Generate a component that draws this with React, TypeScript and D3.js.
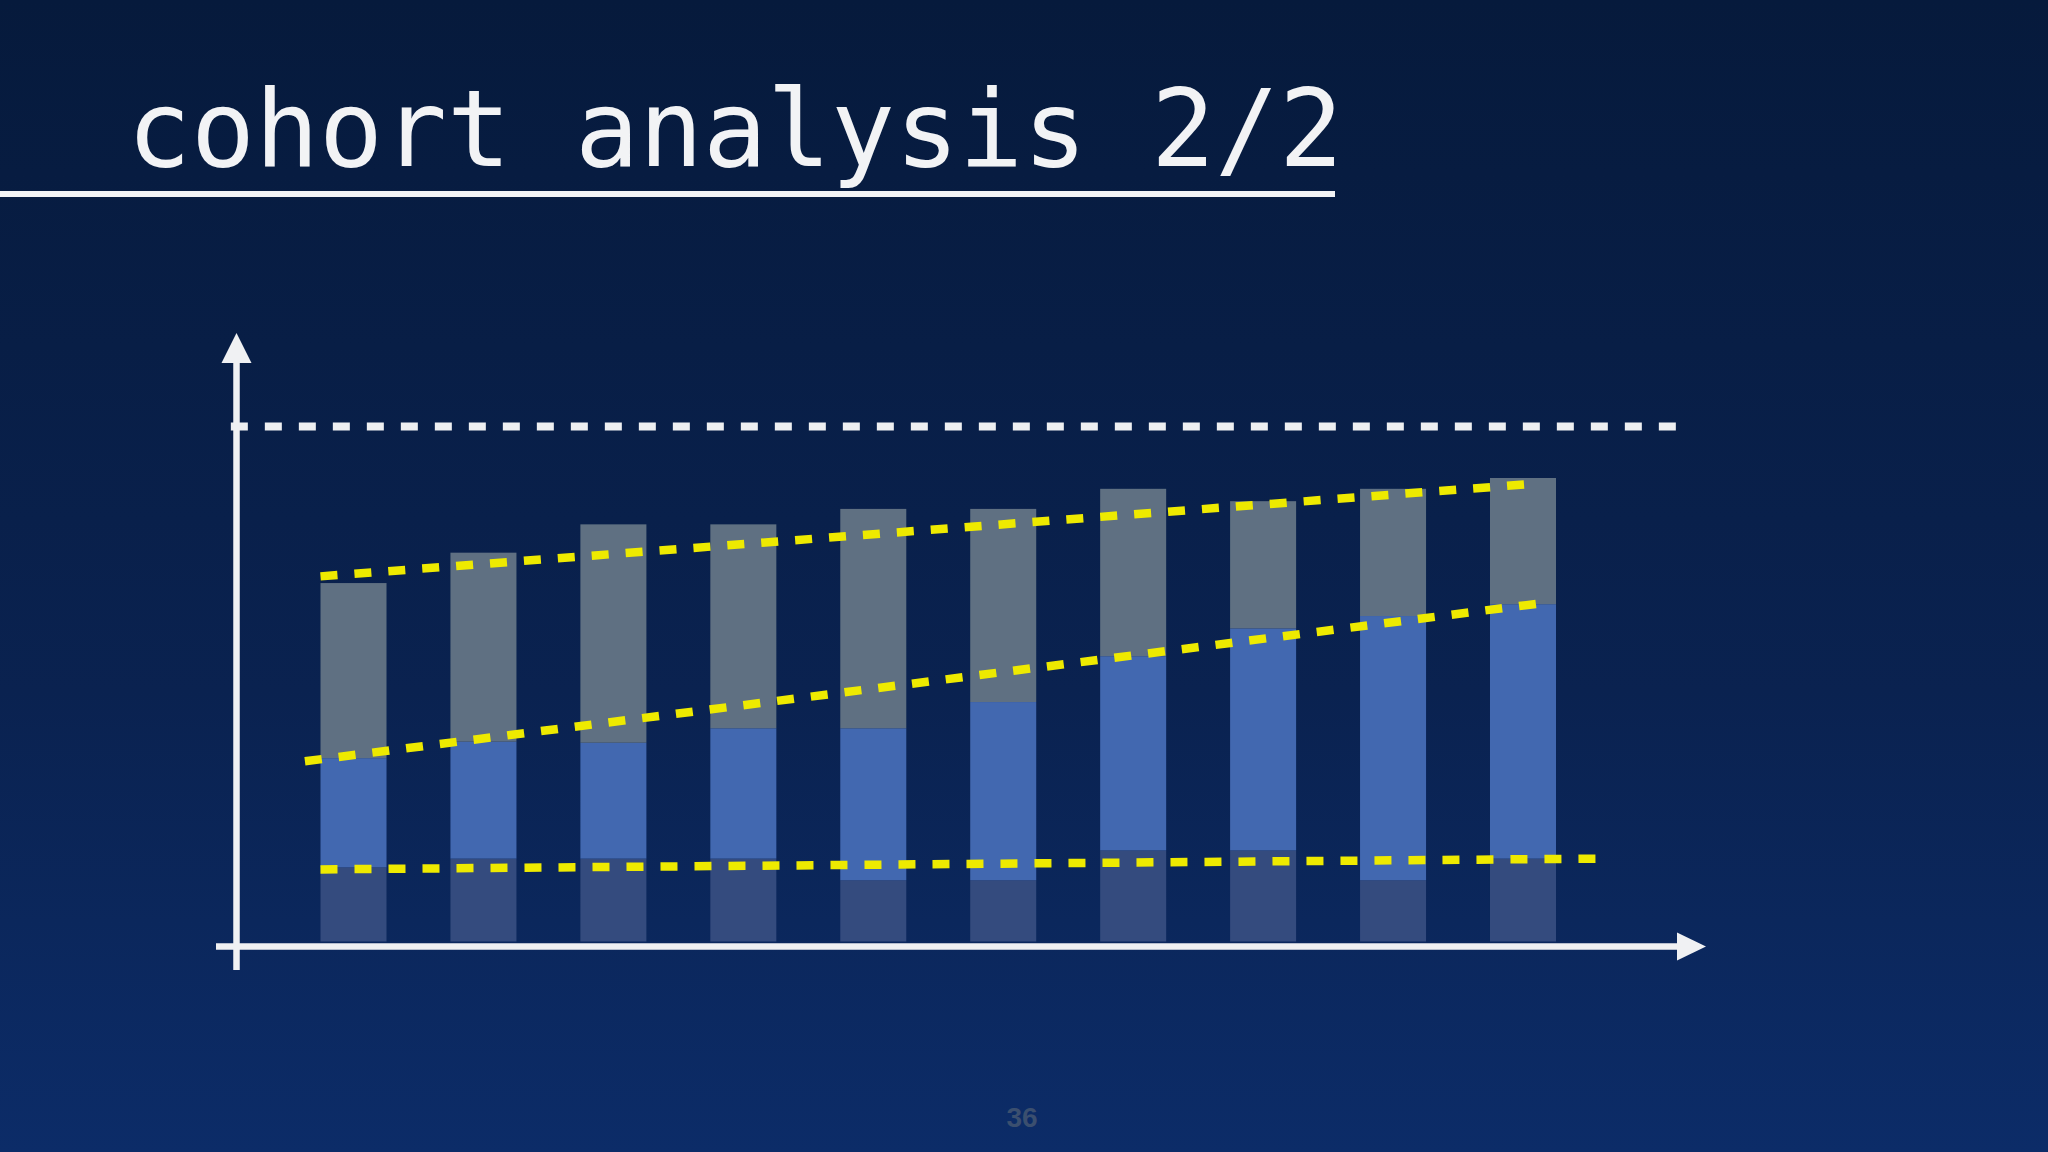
import React from 'react';
import * as d3 from 'd3';

// cohorts, oldest on the left
const cohorts = ['C1', 'C2', 'C3', 'C4', 'C5', 'C6', 'C7', 'C8', 'C9', 'C10'];

// stacked segments, bottom to top (percent of the ceiling line)
const coreValues = [14.4, 16.1, 16.1, 16.1, 11.9, 11.9, 17.7, 17.7, 11.9, 16.1];
const activeValues = [21.2, 22.7, 22.5, 25.3, 29.5, 34.6, 37.7, 43.1, 51.3, 49.4];
const idleValues = [34.0, 36.7, 42.4, 39.6, 42.6, 37.5, 32.5, 24.7, 24.7, 24.5];

const segmentKeys = ['core', 'active', 'idle'];
const segmentColors = ['#344b7e', '#4268b0', '#5f7082'];

// trend lines: [cohort index, value]
const topTrend: [number, number][] = [[0, 70.9], [9.3, 88.8]];
const midTrend: [number, number][] = [[-0.12, 35.0], [9.4, 65.7]];
const lowTrend: [number, number][] = [[0, 14.0], [9.85, 16.1]];
const ceiling: [number, number][] = [[-0.69, 100], [10.48, 100]];

const W = 2048;
const H = 1152;

export default function App() {
  const table = cohorts.map((c, i) => ({
    cohort: c,
    core: coreValues[i],
    active: activeValues[i],
    idle: idleValues[i],
  }));

  const x = d3.scaleBand<string>()
    .domain(cohorts)
    .range([320.5, 1556])
    .paddingInner(0.492)
    .paddingOuter(0);

  const y = d3.scaleLinear().domain([0, 100]).range([941.5, 426.5]);

  // index scale for the trend lines, anchored on the bar left edges
  const xi = d3.scaleLinear()
    .domain([0, cohorts.length - 1])
    .range([x(cohorts[0])!, x(cohorts[cohorts.length - 1])!]);

  const stack = d3.stack<any>().keys(segmentKeys);
  const series = stack(table);

  const line = d3.line<[number, number]>()
    .x(d => xi(d[0]))
    .y(d => y(d[1]));

  const axisX = 236.5;
  const axisY = 946.5;
  const axisColor = '#f0f1f3';

  return (
    <div style={{ position: 'fixed', left: 0, top: 0, width: W, height: H }}>
      <svg width={W} height={H} style={{ display: 'block' }}>
        <defs>
          <linearGradient id="bg" x1="0" y1="0" x2="0" y2="1">
            <stop offset="0%" stopColor="#061a3c" />
            <stop offset="60%" stopColor="#0a2250" />
            <stop offset="100%" stopColor="#0c2c68" />
          </linearGradient>
        </defs>
        <rect width={W} height={H} fill="url(#bg)" />

        <text
          x={127}
          y={166}
          fontFamily="'DejaVu Sans Mono', monospace"
          fontSize={106.3}
          fill="#f2f3f5"
        >
          cohort analysis 2/2
        </text>
        <line x1={0} x2={1335} y1={194} y2={194} stroke="#f2f3f5" strokeWidth={6} />

        {series.map((s, si) => (
          <g key={s.key} fill={segmentColors[si]}>
            {s.map((d, i) => (
              <rect
                key={cohorts[i]}
                x={x(cohorts[i])}
                width={x.bandwidth()}
                y={y(d[1])}
                height={y(d[0]) - y(d[1])}
              />
            ))}
          </g>
        ))}

        <path
          d={line(ceiling)!}
          stroke="#eeeff1"
          strokeWidth={8}
          strokeDasharray="17 17"
          fill="none"
        />

        {[topTrend, midTrend, lowTrend].map((t, i) => (
          <path
            key={i}
            d={line(t)!}
            stroke="#eeea00"
            strokeWidth={8.5}
            strokeDasharray="17 17"
            fill="none"
          />
        ))}

        {/* y axis */}
        <line x1={axisX} x2={axisX} y1={360} y2={970} stroke={axisColor} strokeWidth={6.5} />
        <polygon
          points={`${axisX},333 ${axisX - 15},363 ${axisX + 15},363`}
          fill={axisColor}
        />
        {/* x axis */}
        <line x1={216} x2={1680} y1={axisY} y2={axisY} stroke={axisColor} strokeWidth={6.5} />
        <polygon
          points={`1706,${axisY} 1677,${axisY - 14} 1677,${axisY + 14}`}
          fill={axisColor}
        />

        <text
          x={1022}
          y={1127}
          textAnchor="middle"
          fontFamily="'Liberation Sans', Arial, sans-serif"
          fontWeight="bold"
          fontSize={28}
          fill="#3b4f6f"
        >
          36
        </text>
      </svg>
    </div>
  );
}
